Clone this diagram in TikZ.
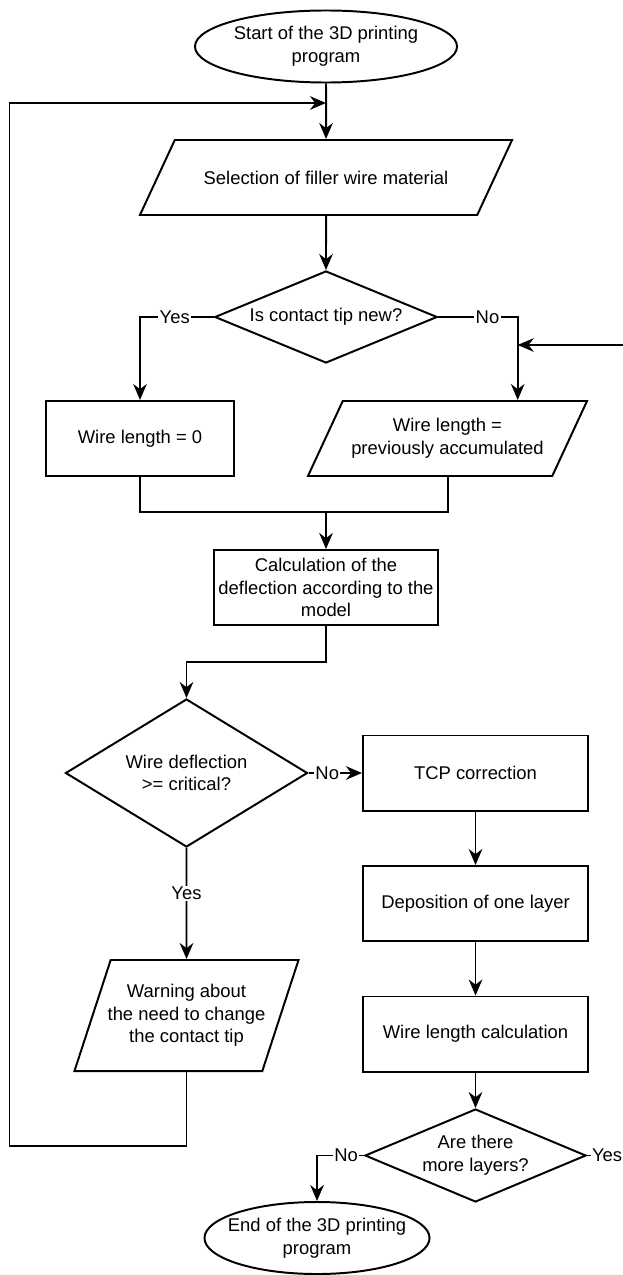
\documentclass[tikz,border=0pt]{standalone}
\usepackage{fontspec}
\setmainfont{Liberation Sans}
\usetikzlibrary{shapes.geometric}
\usetikzlibrary{arrows.meta}

\begin{document}
\begin{tikzpicture}[
		% Style definitions - one unit is one pixel of the layout
		x=0.025cm, y=-0.025cm,
		every node/.style={font=\fontsize{13.1pt}{16.1pt}\selectfont},
		terminal/.style={draw, ellipse, line width=1.4pt, inner sep=0pt, minimum width=6.55cm, minimum height=1.8cm, align=center},
		process/.style={draw, line width=1.4pt, inner sep=1pt, minimum width=5.625cm, minimum height=1.875cm, align=center},
		io/.style={draw, trapezium, trapezium left angle=64.4, trapezium right angle=115.6, trapezium stretches body=true, line width=1.4pt, inner xsep=0pt, minimum height=1.875cm, align=center},
		decision/.style={draw, diamond, line width=1.4pt, inner sep=0pt, align=center},
		edgelbl/.style={fill=white, inner sep=1pt},
		arrow/.style={-{Stealth[length=4mm, width=3.4mm, inset=1.3mm]}, line width=1.4pt},
		link/.style={line width=1.4pt},
		]
		\useasboundingbox (0,0) rectangle (623,1275);

		% === MAIN COLUMN: start, material, tip check ===
		\node[terminal] (start-prog) at (326,46.5) {Start of the 3D printing\\program};
		\node[io, inner ysep=0.74cm, minimum width=9.3cm] (select-wire) at (326,177.5) {Selection of filler wire material};
		\node[decision, aspect=2.42, minimum width=5.56cm, minimum height=2.3cm] (tip-new) at (326,317) {Is contact tip new?};

		% === ROW: wire length branches ===
		\node[process, minimum width=4.675cm] (len-zero) at (140,438.5) {Wire length = 0};
		\node[io, inner ysep=0.41cm, minimum width=6.975cm] (len-prev) at (447.5,438.5) {Wire length =\\previously accumulated};

		% === Deflection model and check ===
		\node[process, minimum width=5.61cm] (calc-defl) at (326,587.5) {Calculation of the\\deflection according to the\\model};
		\node[decision, aspect=1.64, minimum width=6.05cm, minimum height=3.7cm] (defl-check) at (186.5,773) {Wire deflection\\>= critical?};

		% === RIGHT COLUMN: deposition loop ===
		\node[process] (tcp-corr) at (475.5,773) {TCP correction};
		\node[process] (depo-layer) at (475.5,903.5) {Deposition of one layer};
		\node[process] (len-calc) at (475.5,1034) {Wire length calculation};
		\node[decision, aspect=2.38, minimum width=5.525cm, minimum height=2.325cm] (more-layers) at (475.5,1155.5) {Are there\\more layers?};

		% === LEFT COLUMN: warning, end ===
		\node[io, trapezium left angle=71.6, trapezium right angle=108.4, inner xsep=-0.13cm, inner ysep=0.58cm, minimum width=5.6cm, minimum height=2.775cm] (warn-tip) at (186.5,1015.5) {Warning about\\the need to change\\the contact tip};
		\node[terminal, inner xsep=-0.28cm, minimum width=5.625cm] (end-prog) at (317,1238) {End of the 3D printing\\program};

		% === Bends of the connectors ===
		\coordinate (loop-in) at (326,103);
		\coordinate (loop-tl) at (9.5,103);
		\coordinate (loop-bl) at (9.5,1146);
		\coordinate (no-corner) at (517.7,317);
		\coordinate (retry-in) at (517.7,345);
		\coordinate (loop-tr) at (640,345);
		\coordinate (loop-br) at (640,1155.5);
		\coordinate (merge) at (326,512);
		\coordinate (kink) at (326,662);

		% === Connections: main flow ===
		\draw[arrow] (start-prog) -- (select-wire);
		\draw[arrow] (select-wire) -- (tip-new);
		\draw[arrow] (tip-new.west) -| node[edgelbl, pos=0.265] {Yes} (len-zero.north);
		\draw[arrow] (tip-new.east) -- node[edgelbl, pos=0.62] {No} (no-corner) -- (no-corner |- len-prev.north);
		\draw[link] (len-zero.south) |- (merge);
		\draw[link] (len-prev.south) |- (merge);
		\draw[arrow] (merge) -- (calc-defl.north);
		\draw[arrow] (calc-defl.south) -- (kink) -| (defl-check.north);
		\draw[arrow] (defl-check.east) -- node[edgelbl, pos=0.35] {No} (tcp-corr.west);
		\draw[arrow] (defl-check.south) -- node[edgelbl, pos=0.41] {Yes} (warn-tip.north);
		\draw[arrow] (tcp-corr) -- (depo-layer);
		\draw[arrow] (depo-layer) -- (len-calc);
		\draw[arrow] (len-calc) -- (more-layers);
		\draw[arrow] (more-layers.west) -| node[edgelbl, pos=0.19] {No} (end-prog.north);

		% === Connections: loops back ===
		\draw[arrow] (warn-tip.south) |- (loop-bl) -- (loop-tl) -- (loop-in);
		\draw[arrow] (more-layers.east) -- node[edgelbl, pos=0.38] {Yes} (loop-br) -- (loop-tr) -- (retry-in);

	\end{tikzpicture}
\end{document}
